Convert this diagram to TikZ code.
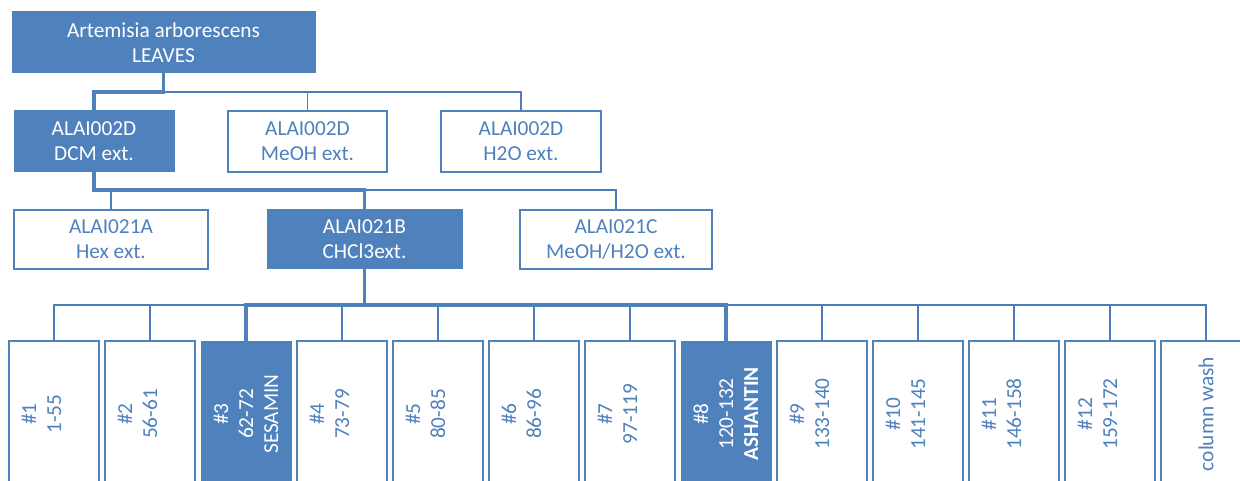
\documentclass[tikz,border=0pt]{standalone}
\usepackage{fontspec}
\setmainfont{Carlito}
\definecolor{acc}{HTML}{4F81BD}
\definecolor{lnc}{HTML}{4A7EBB}
\begin{document}
\begin{tikzpicture}[x=0.75pt,y=-0.75pt,
  sz/.style 2 args={minimum width=#1*0.75pt, minimum height=#2*0.75pt},
  basebox/.style={rectangle, inner sep=0pt, align=center, font=\fontsize{16}{18.75}\selectfont},
  fbox/.style={basebox, fill=acc, draw=acc, line width=0.75pt, text=white},
  wbox/.style={basebox, fill=white, draw=acc, line width=0.9pt, text=acc},
  thinc/.style={draw=lnc, line width=1pt},
  thickc/.style={draw=acc, line width=2.4pt},
  vert/.style={rotate=90, sz={146}{90}}
]
\useasboundingbox (0,0) rectangle (1240,481);
\clip (0,0) rectangle (1240,481);
\fill[white] (0,0) rectangle (1240,481);

% level 1
\node[fbox, sz={303}{61}] (root) at (163.5,42.5) {Artemisia arborescens\\LEAVES};
% level 2
\node[fbox, sz={160}{61}] (dcm) at (94,141.5) {ALAI002D\\DCM ext.};
\node[wbox, sz={159}{61}] (meoh) at (307.5,141.5) {ALAI002D\\MeOH ext.};
\node[wbox, sz={160}{61}] (h2o) at (521,141.5) {ALAI002D\\H2O ext.};
% level 3
\node[wbox, sz={194}{59}] (hex) at (111,239.5) {ALAI021A\\Hex ext.};
\node[fbox, sz={195}{59}] (chcl) at (364.5,239.5) {ALAI021B\\CHCl3ext.};
\node[wbox, sz={192}{59}] (mw) at (616,239.5) {ALAI021C\\MeOH/H2O ext.};
% level 4
\node[wbox, vert] (f1) at (54,414) {\#1\\1-55\\\mbox{}};
\node[wbox, vert] (f2) at (150,414) {\#2\\56-61\\\mbox{}};
\node[fbox, vert] (f3) at (246,414) {\#3\\62-72\\SESAMIN};
\node[wbox, vert] (f4) at (342,414) {\#4\\73-79\\\mbox{}};
\node[wbox, vert] (f5) at (438,414) {\#5\\80-85\\\mbox{}};
\node[wbox, vert] (f6) at (534,414) {\#6\\86-96\\\mbox{}};
\node[wbox, vert] (f7) at (630,414) {\#7\\97-119\\\mbox{}};
\node[fbox, vert] (f8) at (726,414) {\#8\\120-132\\\textbf{ASHANTIN}};
\node[wbox, vert] (f9) at (822,414) {\#9\\133-140\\\mbox{}};
\node[wbox, vert] (f10) at (918,414) {\#10\\141-145\\\mbox{}};
\node[wbox, vert] (f11) at (1014,414) {\#11\\146-158\\\mbox{}};
\node[wbox, vert] (f12) at (1110,414) {\#12\\159-172\\\mbox{}};
\node[wbox, vert] (f13) at (1206,414) {column wash};

% buses
\coordinate (b1) at (0,92);
\coordinate (b2) at (0,190);
\coordinate (b3) at (0,305);

% level 1 -> 2
\draw[thinc] (root.south |- b1) -| (meoh.north);
\draw[thinc] (root.south |- b1) -| (h2o.north);
\draw[thickc] (root.south) -- (root.south |- b1) -| (dcm.north);
% level 2 -> 3
\draw[thinc] (dcm.south |- b2) -| (hex.north);
\draw[thinc] (dcm.south |- b2) -| (mw.north);
\draw[thickc] (dcm.south) -- (dcm.south |- b2) -| (chcl.north);
% level 3 -> 4
\foreach \n in {f1,f2,f4,f5,f6,f7,f9,f10,f11,f12,f13}{
  \draw[thinc] (chcl.south |- b3) -| (\n.east);
}
\draw[thickc] (chcl.south) -- (chcl.south |- b3) -| (f3.east);
\draw[thickc] (chcl.south |- b3) -| (f8.east);
\end{tikzpicture}
\end{document}
